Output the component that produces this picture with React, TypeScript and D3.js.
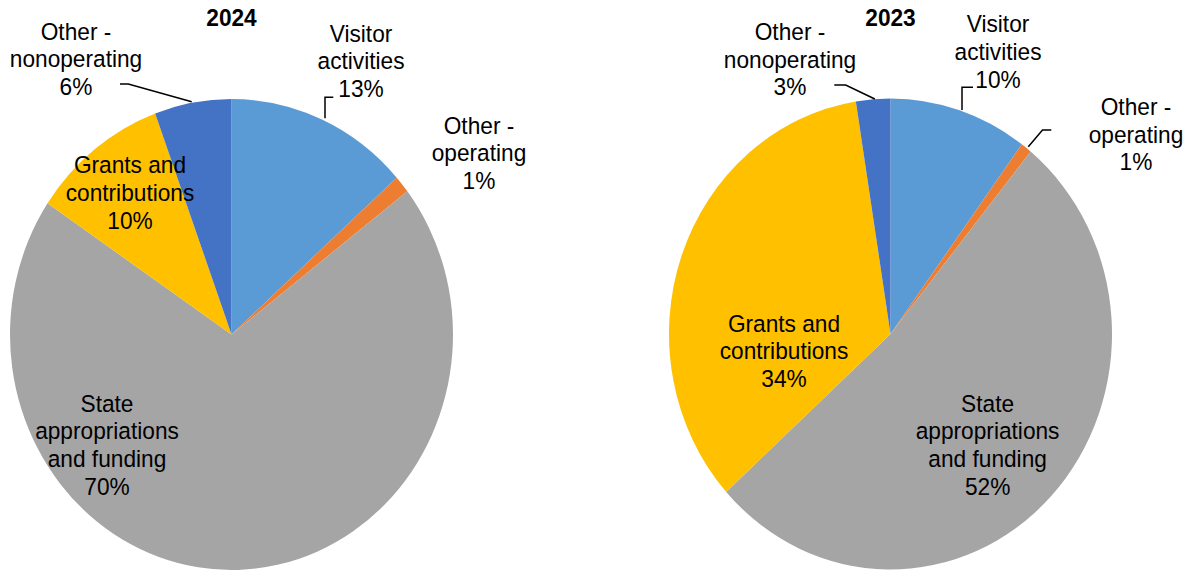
import React from "react";
import * as d3 from "d3";

const categories = [
  "Visitor activities",
  "Other - operating",
  "State appropriations and funding",
  "Grants and contributions",
  "Other - nonoperating",
];
const values2024 = [13.4, 1.2, 69.8, 10.0, 5.6];
const values2023 = [10.1, 0.8, 52.4, 34.2, 2.5];
const colors = ["#5B9BD5", "#ED7D31", "#A5A5A5", "#FFC000", "#4472C4"];
const years = ["2024", "2023"];

// label text lines (without the percentage, which is computed)
const labelLines = [
  ["Visitor", "activities"],
  ["Other -", "operating"],
  ["State", "appropriations", "and funding"],
  ["Grants and", "contributions"],
  ["Other -", "nonoperating"],
];

// layout (not data)
const W = 1193;
const H = 571;
const RX = 221.5;
const SY = 235.5 / 221.5;
const FONT = 22.7;
const centers = [
  { x: 231.5, y: 334.5 },
  { x: 890.5, y: 334 },
];
const labelPos = [
  [
    { x: 361, y: 41.7 },
    { x: 479, y: 133.5 },
    { x: 107, y: 411.7 },
    { x: 130, y: 173.3 },
    { x: 76, y: 39.5 },
  ],
  [
    { x: 998, y: 32.3 },
    { x: 1136, y: 115 },
    { x: 987.6, y: 411.7 },
    { x: 784, y: 331.7 },
    { x: 790, y: 40 },
  ],
];
const LINE_H = 27.6;
const leaders = [
  [
    [[333.3, 97.3], [325, 97.3], [325, 118.3]],
    [[120, 84], [128.3, 84], [191.7, 101.7]],
  ],
  [
    [[973, 87.3], [962, 87.3], [962, 110]],
    [[1051.3, 130], [1042.5, 130], [1028.3, 146.7]],
    [[834.3, 85], [845.7, 85], [874.8, 99]],
  ],
];

function Pie({ values, idx }: { values: number[]; idx: number }) {
  const c = centers[idx];
  const pie = d3
    .pie<number>()
    .sort(null)
    .value((d) => d);
  const arcs = pie(values);
  const arc = d3.arc<d3.PieArcDatum<number>>().innerRadius(0).outerRadius(RX);
  const line = d3.line();
  return (
    <g>
      <g transform={`translate(${c.x},${c.y}) scale(1,${SY})`}>
        {arcs.map((a, i) => (
          <path key={i} d={arc(a) || ""} fill={colors[i]} stroke="none" />
        ))}
      </g>
      {leaders[idx].map((pts, i) => (
        <path
          key={"l" + i}
          d={line(pts as [number, number][]) || ""}
          fill="none"
          stroke="#000"
          strokeWidth={1.5}
        />
      ))}
      <text
        transform={`translate(${c.x},26) scale(1,${SY})`}
        textAnchor="middle"
        fontFamily="'Liberation Sans', Arial, sans-serif"
        fontSize={FONT}
        fontWeight="bold"
        fill="#000"
      >
        {years[idx]}
      </text>
      {categories.map((cat, i) => {
        const p = labelPos[idx][i];
        const lines = [...labelLines[i], `${Math.round(values[i])}%`];
        return (
          <g key={cat}>
            {lines.map((t, j) => (
              <text
                key={j}
                transform={`translate(${p.x},${p.y + j * LINE_H}) scale(1,${SY})`}
                textAnchor="middle"
                fontFamily="'Liberation Sans', Arial, sans-serif"
                fontSize={FONT}
                fill="#000"
              >
                {t}
              </text>
            ))}
          </g>
        );
      })}
    </g>
  );
}

export default function App() {
  return (
    <svg
      width={W}
      height={H}
      style={{ position: "absolute", left: 0, top: 0, background: "#fff" }}
    >
      <rect width={W} height={H} fill="#fff" />
      <Pie values={values2024} idx={0} />
      <Pie values={values2023} idx={1} />
    </svg>
  );
}
